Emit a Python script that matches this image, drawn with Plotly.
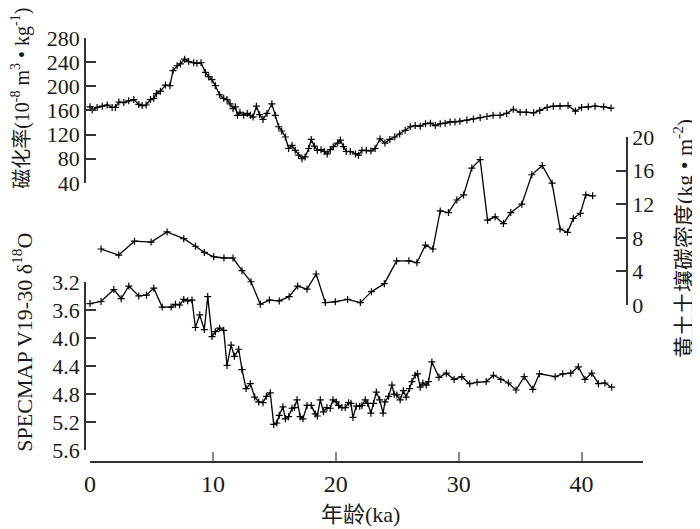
import plotly.graph_objects as go

# ---- data: magnetic susceptibility (10^-8 m3/kg) ----
ka_sus = [0.0, 0.18, 0.58, 1.0, 1.4, 1.8, 2.07, 2.35, 2.75, 3.15,
          3.56, 3.97, 4.24, 4.57, 4.92, 5.19, 5.4, 5.73, 6.14, 6.5,
          6.76, 7.09, 7.36, 7.7, 8.03, 8.44, 8.7, 9.04, 9.39, 9.66,
          9.93, 10.2, 10.55, 10.88, 11.15, 11.4, 11.64, 11.83, 12.0, 12.2,
          12.5, 12.8, 13.05, 13.27, 13.54, 13.8, 14.08, 14.4, 14.8, 15.08,
          15.35, 15.6, 15.9, 16.16, 16.44, 16.7, 16.98, 17.25, 17.5, 17.8,
          18.0, 18.25, 18.5, 18.8, 19.07, 19.3, 19.55, 19.8, 20.15, 20.37,
          20.63, 20.85, 21.18, 21.6, 21.85, 22.13, 22.48, 22.86, 23.2, 23.6,
          24.0, 24.4, 24.8, 25.2, 25.65, 26.06, 26.46, 26.87, 27.3, 27.7,
          28.1, 28.5, 28.9, 29.3, 29.7, 30.1, 30.67, 31.2, 31.75, 32.3,
          32.8, 33.37, 33.9, 34.45, 35.0, 35.5, 36.1, 36.6, 37.2, 37.7,
          38.25, 38.9, 39.5, 40.0, 40.55, 41.1, 41.8, 42.4]
sus = [166, 161, 165, 167, 169, 165, 165, 174, 173, 176,
       178, 170, 168, 169, 178, 180, 188, 192, 202, 201,
       226, 234, 237, 245, 241, 239, 238, 239, 223, 216,
       211, 201, 186, 180, 178, 171, 163, 166, 152, 157,
       152, 155, 152, 149, 167, 153, 145, 155, 171, 152,
       133, 126, 116, 97, 102, 94, 86, 80, 83, 97,
       112, 101, 94, 95, 92, 88, 95, 100, 106, 111,
       100, 92, 92, 88, 86, 94, 94, 93, 97, 113,
       106, 112, 116, 121, 127, 133, 135, 134, 138, 139,
       135, 138, 139, 141, 141, 142, 144, 146, 148, 150,
       152, 152, 155, 162, 157, 157, 156, 160, 165, 167,
       167, 168, 159, 165, 166, 167, 166, 164]

# ---- data: loess soil carbon density (kg/m2) ----
ka_c = [0.9, 2.34, 3.62, 4.97, 6.27, 7.63, 8.58, 9.3, 10.07, 10.9,
        11.64, 12.37, 13.1, 13.86, 14.6, 15.4, 16.2, 16.9, 17.66, 18.4,
        19.15, 19.96, 20.96, 22.0, 22.9, 23.95, 24.95, 25.95, 26.6, 27.3,
        27.9, 28.5, 29.17, 29.85, 30.4, 31.07, 31.75, 32.35, 32.97, 33.64,
        34.24, 35.14, 35.95, 36.8, 37.6, 38.25, 38.85, 39.33, 39.9, 40.34,
        40.9]
carbon = [6.67, 5.95, 7.6, 7.5, 8.7, 7.9, 7.0, 6.27, 5.75, 5.6,
          5.6, 4.1, 2.78, 0.1, 0.6, 0.5, 1.0, 2.26, 1.9, 3.7,
          0.3, 0.4, 0.68, 0.3, 1.6, 2.55, 5.25, 5.27, 5.04, 7.14,
          6.67, 11.2, 11.0, 12.5, 13.1, 16.3, 17.3, 10.1, 10.5, 9.7,
          11.0, 12.0, 15.5, 16.6, 14.5, 9.05, 8.65, 10.3, 10.9, 13.1,
          13.0]

# ---- data: SPECMAP V19-30 d18O ----
ka_o = [0.0, 0.9, 1.94, 2.54, 3.16, 3.97, 4.6, 5.19, 5.87, 6.6,
        6.95, 7.3, 7.63, 7.95, 8.3, 8.58, 8.93, 9.3, 9.58, 9.93,
        10.2, 10.55, 10.88, 11.15, 11.48, 11.75, 12.1, 12.37, 12.7, 13.05,
        13.4, 13.73, 14.08, 14.35, 14.67, 14.95, 15.2, 15.4, 15.7, 15.9,
        16.16, 16.44, 16.63, 16.85, 17.1, 17.33, 17.66, 18.0, 18.33, 18.5,
        18.74, 19.0, 19.28, 19.55, 19.77, 20.04, 20.23, 20.5, 20.77, 21.04,
        21.23, 21.4, 21.67, 21.95, 22.13, 22.4, 22.6, 22.86, 23.07, 23.3,
        23.57, 23.85, 24.0, 24.3, 24.57, 24.75, 24.97, 25.24, 25.5, 25.73,
        26.0, 26.2, 26.46, 26.65, 26.87, 27.09, 27.36, 27.55, 27.82, 28.4,
        29.0, 29.63, 30.26, 30.9, 31.5, 32.24, 32.83, 33.43, 34.05, 34.67,
        35.33, 36.03, 36.57, 37.85, 38.47, 39.12, 39.74, 40.28, 40.83, 41.37,
        41.9, 42.45]
d18o = [3.51, 3.48, 3.31, 3.44, 3.26, 3.40, 3.39, 3.29, 3.56, 3.56,
        3.52, 3.53, 3.45, 3.47, 3.46, 3.85, 3.67, 3.88, 3.41, 3.98,
        3.91, 3.86, 3.89, 4.39, 4.10, 4.26, 4.16, 4.45, 4.72, 4.65,
        4.84, 4.91, 4.92, 4.83, 4.78, 5.23, 5.21, 5.10, 4.98, 5.15,
        5.12, 5.00, 4.99, 4.88, 5.12, 5.15, 4.96, 4.96, 5.08, 5.11,
        4.88, 5.05, 4.99, 5.00, 4.88, 4.91, 4.96, 4.99, 4.99, 4.92,
        4.93, 5.13, 4.97, 4.97, 4.96, 4.88, 4.93, 5.07, 4.93, 4.77,
        4.88, 5.07, 4.91, 4.83, 4.67, 4.80, 4.81, 4.88, 4.75, 4.84,
        4.72, 4.62, 4.53, 4.51, 4.70, 4.64, 4.67, 4.62, 4.34, 4.56,
        4.50, 4.59, 4.55, 4.65, 4.63, 4.62, 4.53, 4.59, 4.64, 4.74,
        4.55, 4.73, 4.51, 4.55, 4.51, 4.50, 4.41, 4.59, 4.50, 4.65,
        4.64, 4.70]

assert len(ka_sus) == len(sus)
assert len(ka_c) == len(carbon)
assert len(ka_o) == len(d18o)

x_ticks = [0, 10, 20, 30, 40, 45]
x_ticktext = ["0", "10", "20", "30", "40", ""]
sus_ticks = [40, 80, 120, 160, 200, 240, 280]
c_ticks = [0, 4, 8, 12, 16, 20]
o_ticks = [3.2, 3.6, 4.0, 4.4, 4.8, 5.2, 5.6]
o_ticktext = ["3.2", "3.6", "4.0", "4.4", "4.8", "5.2", "5.6"]

FONT = "Liberation Serif, Times New Roman, Noto Sans CJK SC, serif"
AX = "#333333"
TFY = dict(family=FONT, size=22, color="#1a1a1a")
TFX = dict(family=FONT, size=24, color="#1a1a1a")

line_style = dict(color="black", width=1.3)
marker_style = dict(symbol="cross-thin", size=5, line=dict(color="black", width=1.2))

fig = go.Figure()
fig.add_trace(go.Scatter(x=ka_sus, y=sus, mode="lines+markers", line=line_style,
                         marker=marker_style, xaxis="x", yaxis="y", cliponaxis=False))
fig.add_trace(go.Scatter(x=ka_c, y=carbon, mode="lines+markers", line=line_style,
                         marker=marker_style, xaxis="x", yaxis="y2", cliponaxis=False))
fig.add_trace(go.Scatter(x=ka_o, y=d18o, mode="lines+markers", line=line_style,
                         marker=marker_style, xaxis="x", yaxis="y3", cliponaxis=False))

common_y = dict(showgrid=False, zeroline=False, showline=True, linecolor=AX, linewidth=1.5,
                ticks="inside", ticklen=10, tickwidth=1.5, tickcolor=AX, tickfont=TFY,
                automargin=False)

# page body has an 8px margin: figure pixel = screen pixel - 8
OFF = 8
W, H = 700 - OFF, 529 - OFF
LEFT_S, RIGHT_S, TOP_S, BOTTOM_S = 84.5, 643, 37.7, 462   # plot area on screen
L = LEFT_S - OFF
R = W - (RIGHT_S - OFF)
T = TOP_S - OFF
B = H - (BOTTOM_S - OFF)
pw = W - L - R
ph = H - T - B

def py(s):
    return (BOTTOM_S - s) / ph

def px(s):
    return (s - LEFT_S) / pw

fig.update_layout(
    width=W, height=H,
    margin=dict(l=L, r=R, t=T, b=B, pad=0, autoexpand=False),
    paper_bgcolor="white", plot_bgcolor="rgba(0,0,0,0)",
    showlegend=False,
    xaxis=dict(domain=[px(89.5), 1], range=[0, 45], anchor="free", position=0,
               tickvals=x_ticks, ticktext=x_ticktext, automargin=False,
               showgrid=False, zeroline=False, showline=True, linecolor=AX, linewidth=1.5,
               ticks="inside", ticklen=9, tickwidth=1.5, tickcolor="#888888", tickfont=TFX),
    yaxis=dict(domain=[py(182.7), py(37.7)], range=[40, 280], tickvals=sus_ticks,
               anchor="free", position=0, **common_y),
    yaxis2=dict(domain=[py(305), py(136.7)], range=[0, 20], tickvals=c_ticks,
                anchor="free", position=px(627), side="right", **common_y),
    yaxis3=dict(domain=[py(450.4), py(281.7)], range=[5.6, 3.2], tickvals=o_ticks,
                ticktext=o_ticktext, anchor="free", position=0, **common_y),
)

ann_font = dict(family=FONT, size=22, color="#1a1a1a")
fig.add_annotation(text="磁化率(10<sup>-8</sup> m<sup>3</sup> • kg<sup>-1</sup>)",
                   xref="paper", yref="paper", x=px(20), y=py(98), textangle=-90,
                   xanchor="center", yanchor="middle", showarrow=False,
                   font=dict(family=FONT, size=20, color="#1a1a1a"))
fig.add_annotation(text="SPECMAP V19-30 δ<sup>18</sup>O",
                   xref="paper", yref="paper", x=px(22), y=py(342), textangle=-90,
                   xanchor="center", yanchor="middle", showarrow=False, font=ann_font)
fig.add_annotation(text="黄土土壤碳密度(kg • m<sup>-2</sup>)",
                   xref="paper", yref="paper", x=px(683), y=py(238), textangle=-90,
                   xanchor="center", yanchor="middle", showarrow=False, font=ann_font)
fig.add_annotation(text="年龄(ka)",
                   xref="paper", yref="paper", x=px(360), y=py(515),
                   xanchor="center", yanchor="middle", showarrow=False, font=ann_font)

fig.write_html("out.html")
